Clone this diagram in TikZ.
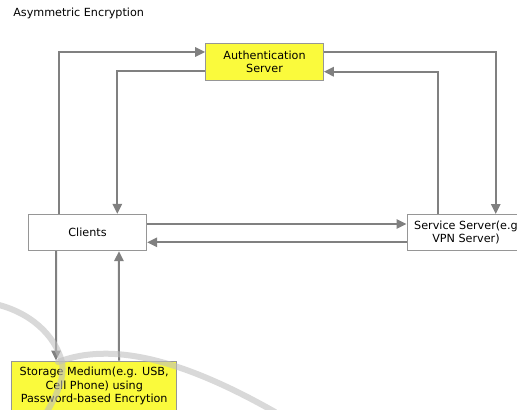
\documentclass[tikz,border=0pt]{standalone}
\usepackage{fontspec}
\setmainfont{DejaVu Sans}
\usetikzlibrary{arrows.meta}
\definecolor{boxyellow}{RGB}{250,250,60}
\definecolor{boxline}{RGB}{150,150,150}
\definecolor{linkgray}{RGB}{128,128,128}
\tikzset{
  box/.style={draw=boxline, line width=0.75pt, fill=white, inner sep=0pt,
              align=center, font=\fontsize{8.4}{10}\selectfont},
  hotbox/.style={box, fill=boxyellow},
  link/.style={draw=linkgray, line width=1.5pt,
               -{Triangle[length=7.5pt,width=7pt]}},
  swoosh/.style={draw=black!25, line width=4.5pt, line cap=round, opacity=0.6}
}
\begin{document}
\begin{tikzpicture}[x=0.75pt, y=-0.75pt]
  \useasboundingbox (0,0) rectangle (517,410);
  \clip (0,0) rectangle (517,410);

  % title
  \node[anchor=base west, inner sep=0pt, font=\fontsize{8.4}{10}\selectfont]
    (title) at (13,16.5) {Asymmetric Encryption};

  % boxes
  \node[hotbox, minimum width=88.2pt, minimum height=27.5pt]
    (auth) at (264.5,61.7) {Authentication\\Server};
  \node[box, minimum width=88.8pt, minimum height=27.3pt]
    (clients) at (87.5,232.5) {Clients};
  \node[box, minimum width=88.5pt, minimum height=27pt]
    (service) at (466,232.5) {Service Server(e.g\\VPN Server)};
  \node[hotbox, minimum width=123.75pt, minimum height=37.5pt]
    (storage) at (94.2,386) {Storage Medium(e.g. USB,\\Cell Phone) using\\Password-based Encrytion};

  % clients <-> authentication server
  \draw[link] ([xshift=-21.15pt]clients.north) |- ([yshift=7.3pt]auth.west);
  \draw[link] ([yshift=-7pt]auth.west) -| ([xshift=22.35pt]clients.north);

  % authentication server <-> service server
  \draw[link] ([yshift=7.3pt]auth.east) -| ([xshift=22.3pt]service.north);
  \draw[link] ([xshift=-21.2pt]service.north) |- ([yshift=-7.5pt]auth.east);

  % clients <-> service server
  \draw[link] ([yshift=6.4pt]clients.east) -- ([yshift=6.4pt]service.west);
  \draw[link] ([yshift=-7.35pt]service.west) -- ([yshift=-7.35pt]clients.east);

  % clients <-> storage medium
  \draw[link] ([xshift=-23.6pt]clients.south) -- ([xshift=-28.65pt]storage.north);
  \draw[link] ([xshift=18.6pt]storage.north) -- ([xshift=23.6pt]clients.south);

  % faint swoosh over the lower left
  \draw[swoosh] (-5,304) .. controls (30,312) and (55,335) .. (62,362)
                .. controls (65,380) and (55,398) .. (45,415);
  \draw[swoosh] (58,362) .. controls (110,342) and (180,358) .. (275,412);
\end{tikzpicture}
\end{document}
